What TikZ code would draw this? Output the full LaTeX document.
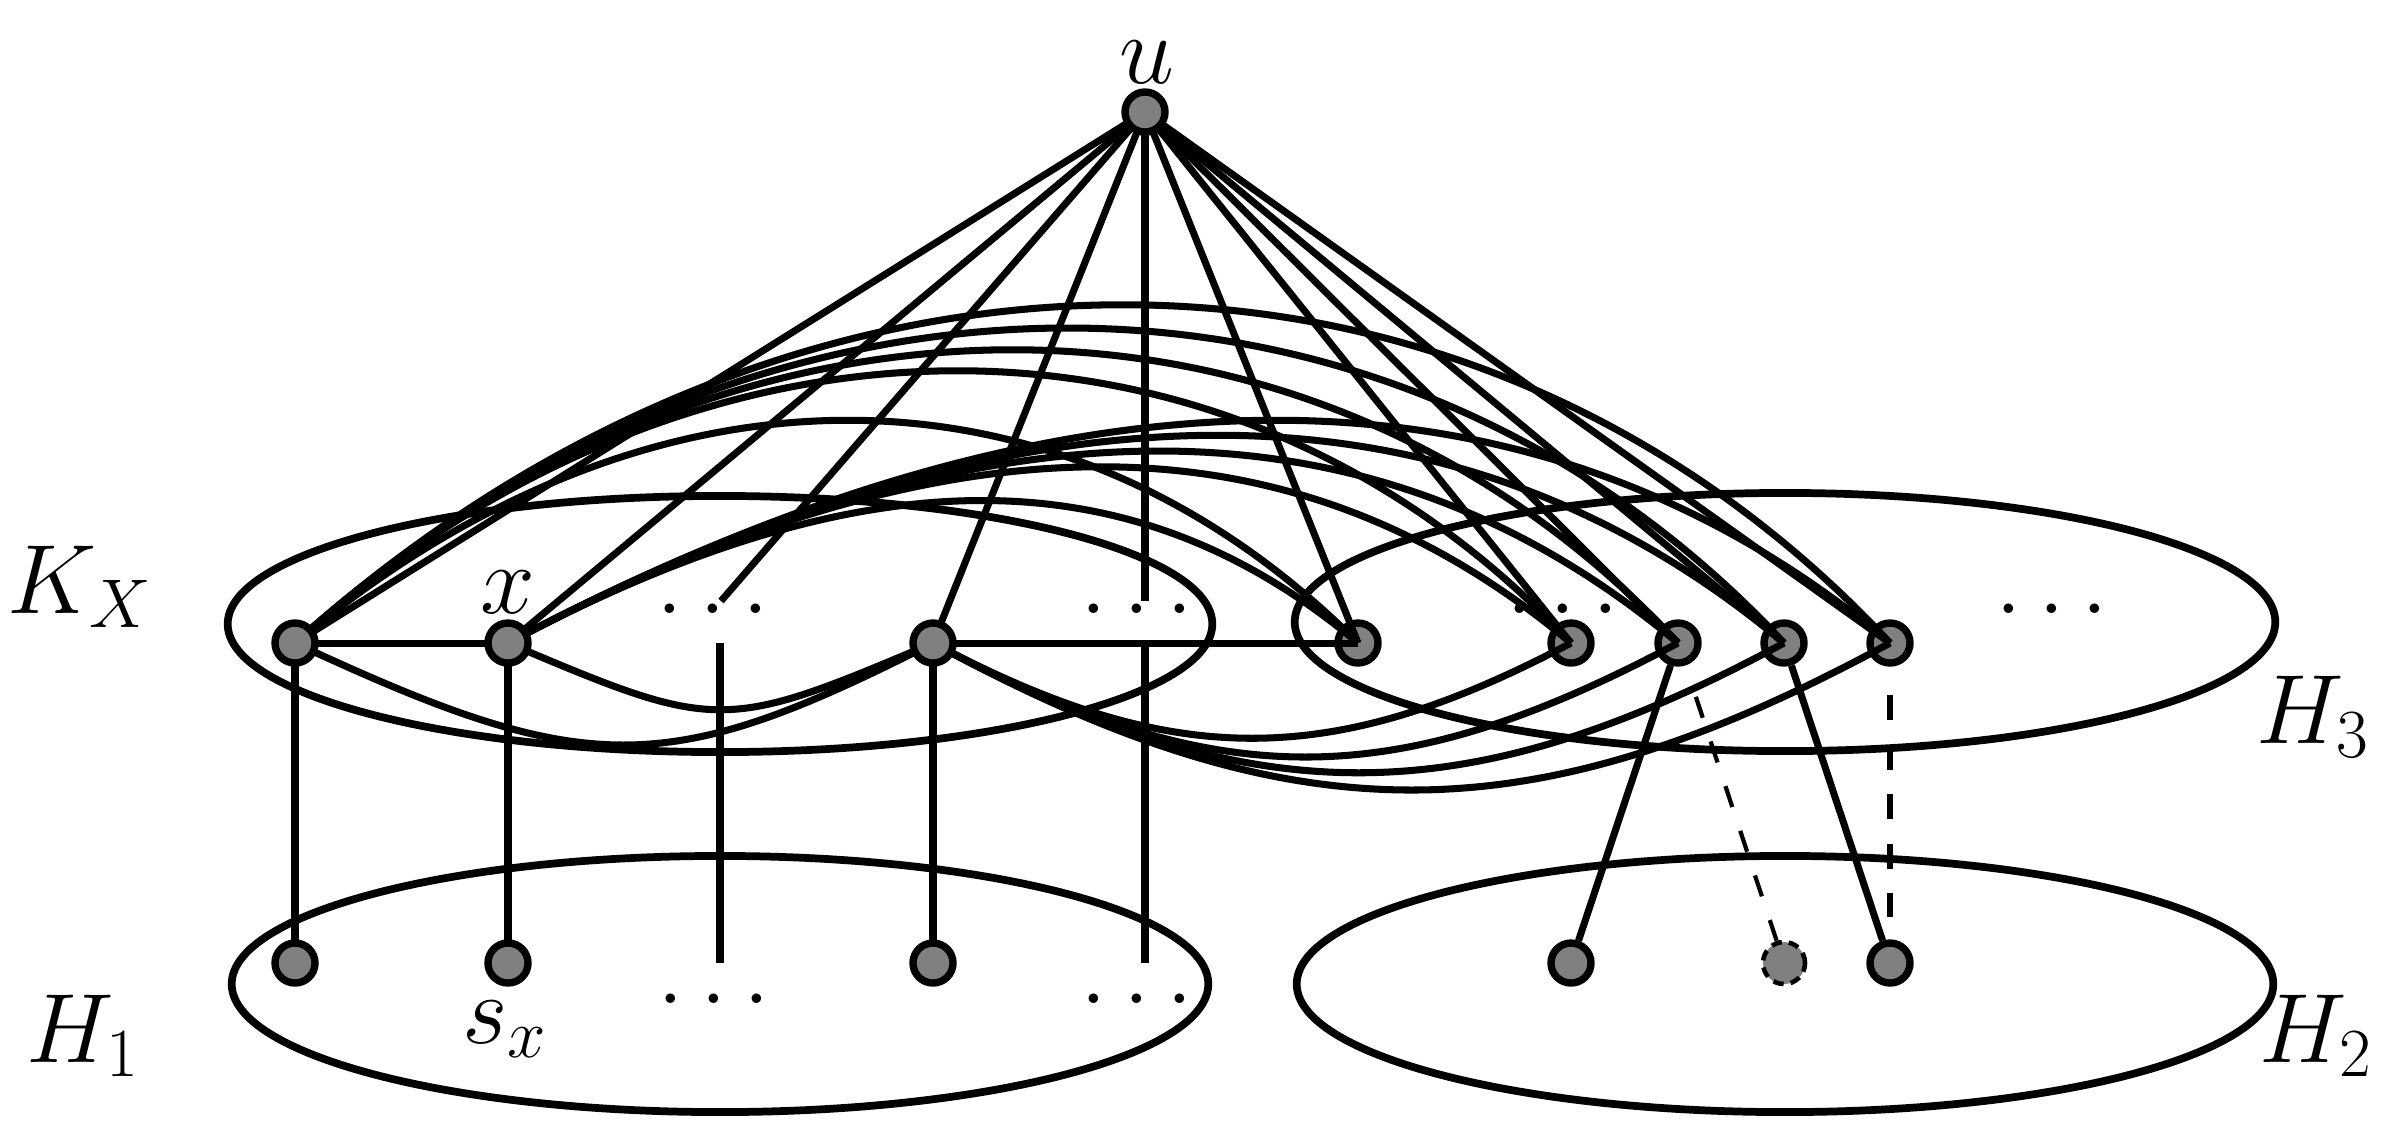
\RequirePackage{fix-cm}
\documentclass[tikz,border=0pt]{standalone}
\pgfdeclarelayer{ell}
\pgfdeclarelayer{hn}
\pgfdeclarelayer{ed}
\pgfsetlayers{ell,hn,ed,main}
\begin{document}
\begin{tikzpicture}[x=0.01cm,y=-0.01cm,
  vtx/.style={circle,fill=gray,draw=black,line width=2.1pt,minimum size=0.40cm,inner sep=0pt},
  dvtx/.style={circle,fill=gray,draw=black,line width=1.3pt,dash pattern=on 3pt off 2pt,minimum size=0.42cm,inner sep=0pt},
  ln/.style={line width=2pt},
  ring/.style={line width=2.2pt},
  dline/.style={line width=1.5pt,dash pattern=on 0.25cm off 0.245cm},
  dlinetwo/.style={line width=1.2pt,dash pattern=on 0.22cm off 0.25cm},
  lbl/.style={font=\fontsize{28}{34}\selectfont,inner sep=0pt,anchor=base},
]
\useasboundingbox (0,0) rectangle (2396,1141);

% ellipses
\begin{pgfonlayer}{ell}
\draw[ring] (720,624) ellipse [x radius=4.92cm, y radius=1.28cm];
\draw[ring] (1785,622) ellipse [x radius=4.90cm, y radius=1.29cm];
\draw[ring] (720,984) ellipse [x radius=4.88cm, y radius=1.28cm];
\draw[ring] (1785,984) ellipse [x radius=4.88cm, y radius=1.28cm];
\end{pgfonlayer}

% main vertices
\node[vtx] (u) at (1145,112) {};
\node[vtx] (a) at (295,643) {};
\node[vtx] (x) at (508,643) {};
\node[vtx] (n3) at (933,643) {};
\node[vtx] (b1) at (295,963) {};
\node[vtx] (bx) at (508,963) {};
\node[vtx] (b3) at (933,963) {};
\node[vtx] (c1) at (1571,963) {};
\node[dvtx] (c2) at (1784,963) {};
\node[vtx] (c3) at (1890,963) {};

% H3 vertices (under the edges)
\begin{pgfonlayer}{hn}
\node[vtx] (h1) at (1358,643) {};
\node[vtx] (h2) at (1571,643) {};
\node[vtx] (h3) at (1678,643) {};
\node[vtx] (h4) at (1784,643) {};
\node[vtx] (h5) at (1890,643) {};
\node[lbl] (dh1) at (1563,613) {$\ldots$};
\end{pgfonlayer}

% free ends
\coordinate (d1top) at (721,601);
\coordinate (d1bot) at (720,643);
\coordinate (d1low) at (720,963);
\coordinate (d2top) at (1145,601);
\coordinate (d2bot) at (1145,643);
\coordinate (d2low) at (1145,963);

% labels
\node[lbl] (lu) at (1147,83) {$u$};
\node[lbl] (lx) at (508,613) {$x$};
\node[lbl] (lK) at (80,613) {$K_X$};
\node[lbl] (lH1) at (83,1062) {$H_1$};
\node[lbl] (lH2) at (2316,1062) {$H_2$};
\node[lbl] (lH3) at (2313,743) {$H_3$};
\node[lbl] (ls) at (505,1043) {$s_x$};
\node[lbl] (dk1) at (713,613) {$\ldots$};
\node[lbl] (dk2) at (1137,613) {$\ldots$};
\node[lbl] (dh2) at (2052,613) {$\ldots$};
\node[lbl] (db1) at (714,1003) {$\ldots$};
\node[lbl] (db2) at (1137,1003) {$\ldots$};

\begin{pgfonlayer}{ed}
% edges from u
\foreach \t in {a,x,d1top,n3,d2top,h1,h2,h3,h4,h5}
  \draw[ln] (u.center) -- (\t.center);
% straight edges
\draw[ln] (a.center) -- (x.center);
\draw[ln] (n3.center) -- (h1.center);
\draw[ln] (a.center) -- (b1.center);
\draw[ln] (x.center) -- (bx.center);
\draw[ln] (n3.center) -- (b3.center);
\draw[ln] (d1bot) -- (d1low);
\draw[ln] (d2bot) -- (d2low);
\draw[ln] (h3) -- (c1);
\draw[ln] (h4) -- (c3);
\draw[dlinetwo, shorten <=0.33cm] (h3) -- (c2);
\draw[dline, shorten <=0.285cm, shorten >=0.22cm] (h5) -- (c3);
% upper arcs from a
\draw[ln] (a.center) .. controls +(501,-451) and +(-420,-451) .. (h5.center);
\draw[ln] (a.center) .. controls +(466,-420) and +(-392,-420) .. (h4.center);
\draw[ln] (a.center) .. controls +(434,-391) and +(-365,-391) .. (h3.center);
\draw[ln] (a.center) .. controls +(403,-363) and +(-338,-363) .. (h2.center);
\draw[ln] (a.center) .. controls +(354,-297) and +(-297,-297) .. (h1.center);
% upper arcs from x
\draw[ln] (x.center) .. controls +(559,-297) and +(-354,-297) .. (h5.center);
\draw[ln] (x.center) .. controls +(521,-277) and +(-330,-277) .. (h4.center);
\draw[ln] (x.center) .. controls +(481,-256) and +(-305,-256) .. (h3.center);
\draw[ln] (x.center) .. controls +(442,-235) and +(-280,-235) .. (h2.center);
\draw[ln] (x.center) .. controls +(357,-190) and +(-226,-190) .. (h1.center);
% lower arcs
\draw[ln] (a.center) .. controls +(292,136) and +(-267,136) .. (n3.center);
\draw[ln] (x.center) .. controls +(210,89) and +(-210,89) .. (n3.center);
\draw[ln] (n3.center) .. controls +(240,127) and +(-240,127) .. (h2.center);
\draw[ln] (n3.center) .. controls +(285,152) and +(-285,152) .. (h3.center);
\draw[ln] (n3.center) .. controls +(320,173) and +(-320,173) .. (h4.center);
\draw[ln] (n3.center) .. controls +(360,196) and +(-360,196) .. (h5.center);
\end{pgfonlayer}
\end{tikzpicture}
\end{document}
